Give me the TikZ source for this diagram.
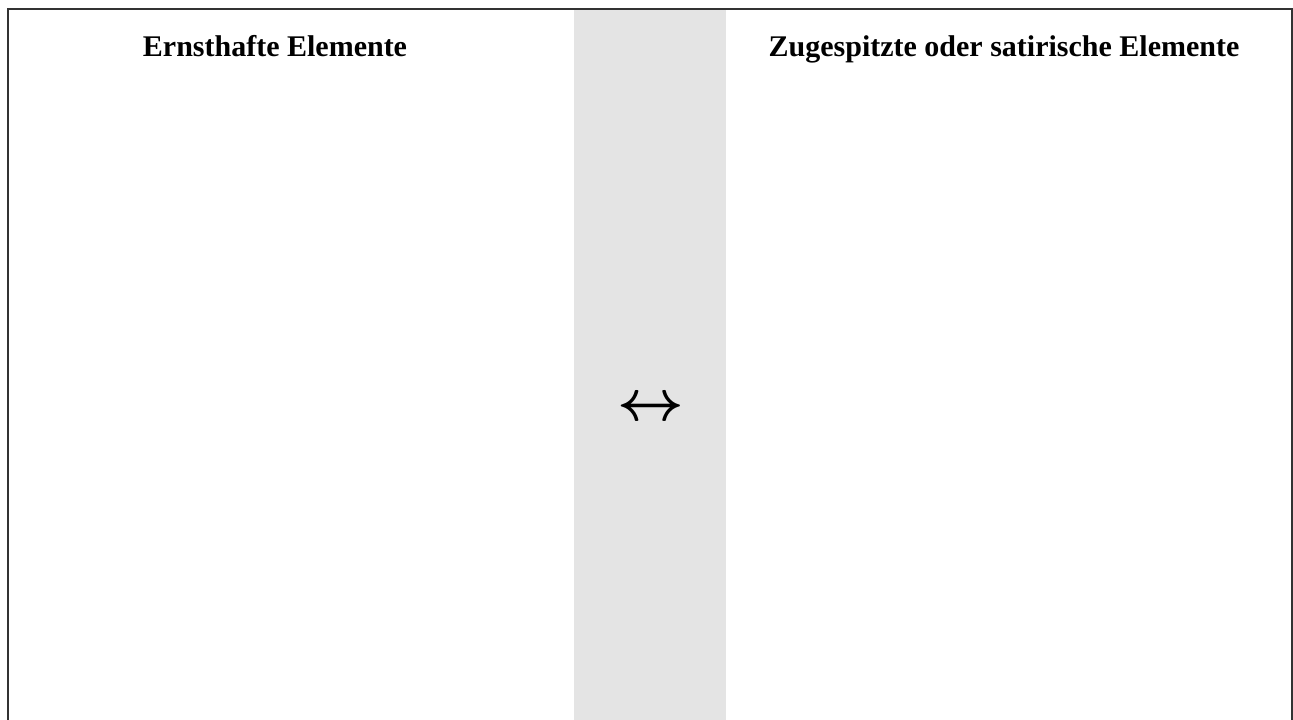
\documentclass[tikz,border=0pt]{standalone}
\usepackage{graphicx}
\usepackage{fontspec}
\setmainfont{Liberation Serif}
\newcommand{\bigarrowsym}{{\boldmath\scalebox{5.8}{$\leftrightarrow$}}}
\begin{document}
\begin{tikzpicture}[x=1pt,y=1pt,
  heading/.style={font=\fontsize{30}{36}\selectfont\bfseries, anchor=base, inner sep=0pt},
  frameline/.style={draw=black!80, line width=2pt},
  midcol/.style={fill=black!10.5, draw=none}]
\useasboundingbox (0,0) rectangle (1293,720);
\fill[midcol] (574,-5) rectangle (726,711);
\draw[frameline] (7.5,-10) -- (7.5,711) -- (1292,711) -- (1292,-10);
\node[heading] (left) at (275,663) {Ernsthafte Elemente};
\node[heading] (right) at (1004,663) {Zugespitzte oder satirische Elemente};
\node[inner sep=0pt] (arr) at (650.5,311) {\bigarrowsym};
\end{tikzpicture}
\end{document}
